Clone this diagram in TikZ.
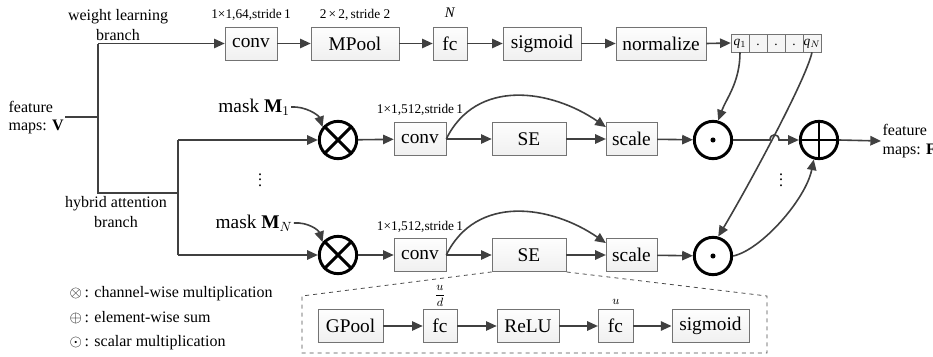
\documentclass[tikz,border=0pt]{standalone}
\usepackage{fontspec}
\setmainfont{Liberation Serif}
\usetikzlibrary{arrows.meta}
\newcommand{\bxfont}{\fontsize{14.5}{16}\selectfont}
\newcommand{\lbfont}{\fontsize{12}{15}\selectfont}
\newcommand{\smfont}{\fontsize{10}{11}\selectfont}

\begin{document}
\begin{tikzpicture}[x=0.75pt,y=-0.75pt,
  blk/.style={draw=gray!90!black, top color=gray!1, bottom color=gray!12, minimum height=25pt, inner sep=0pt, font=\bxfont},
  cell/.style={draw=gray!90!black, fill=gray!8, minimum size=13.5pt, inner sep=0pt, text height=6pt, text depth=2pt, font=\smfont},
  op/.style={circle, draw=black, line width=2.2pt, minimum size=28pt, inner sep=0pt},
  sym/.style={line width=2.2pt},
  ln/.style={draw=black!75, line width=1.2pt},
  arr/.style={ln, -{Triangle[length=8pt,width=7pt]}},
  note/.style={font=\smfont, inner sep=1pt},
  txt/.style={font=\lbfont, align=center, inner sep=1pt}]
\useasboundingbox (0,0) rectangle (933,357);

% input and branch labels
\node[txt, align=left, anchor=west, font=\fontsize{12}{13.5}\selectfont] (fV) at (7,118) {feature\\maps: \textbf{V}};
\node[txt] (lbw) at (118,25) {weight learning\\branch};
\node[txt] (lbh) at (116,212) {hybrid attention\\branch};
\coordinate (j1) at (98,117);
\coordinate (jt) at (98,43.5);
\coordinate (jb) at (98,193);
\coordinate (j2) at (178,193);
\coordinate (jA) at (178,140);
\coordinate (jB) at (178,255);

% weight learning branch
\node[blk, minimum width=39pt] (cvw) at (251,43.5) {conv};
\node[blk, minimum width=66pt] (mp) at (355,43.5) {MPool};
\node[blk, minimum width=25.5pt] (fcw) at (450,43.5) {fc};
\node[blk, minimum width=58.5pt] (sgw) at (542,43.5) {sigmoid};
\node[blk, minimum width=67.5pt] (nrm) at (661,43.5) {normalize};
\node[note] at (251,15) {1×1,64,stride\,1};
\node[note] at (355,15) {2\,×\,2,\,stride 2};
\node[note, font=\fontsize{11}{12}\selectfont] at (450,13) {\textit{N}};
\node[cell] (q1) at (740,43) {\textit{q}$_1$};
\node[cell] (q2) at (758,43) {.};
\node[cell] (q3) at (776,43) {.};
\node[cell] (q4) at (794,43) {.};
\node[cell] (q5) at (812,43) {\textit{q}$_N$};

% hybrid attention branch, first mask
\node[font=\bxfont, inner sep=1pt] (mkA) at (254,107) {mask \textbf{M}$_1$};
\node[op] (otA) at (338,140) {};
\node[blk, minimum width=39pt] (cvA) at (420,139) {conv};
\node[blk, minimum width=55.5pt] (seA) at (529,139) {SE};
\node[blk, minimum width=38pt] (scA) at (631.5,139) {scale};
\node[op] (odA) at (713,140) {};
\node[note] at (420,110) {1×1,512,stride\,1};

% hybrid attention branch, last mask
\node[font=\bxfont, inner sep=1pt] (mkB) at (254,223) {mask \textbf{M}$_N$};
\node[op] (otB) at (338,255) {};
\node[blk, minimum width=39pt] (cvB) at (420,255) {conv};
\node[blk, minimum width=55.5pt] (seB) at (529,255) {SE};
\node[blk, minimum width=38pt] (scB) at (631.5,255) {scale};
\node[op] (odB) at (713,256) {};
\node[note] at (420,227) {1×1,512,stride\,1};

% sum and output
\node[op] (sum) at (819,140) {};
\node[txt, align=left, anchor=west, font=\fontsize{12}{14}\selectfont] (fF) at (881,141) {feature\\maps: \textbf{F}};

% operator symbols
\draw[sym] (otA.north west) -- (otA.south east) (otA.north east) -- (otA.south west);
\draw[sym] (otB.north west) -- (otB.south east) (otB.north east) -- (otB.south west);
\draw[sym] (sum.north) -- (sum.south) (sum.west) -- (sum.east);
\fill (odA) circle[radius=1.9pt];
\fill (odB) circle[radius=1.9pt];

% SE block detail
\node[blk, minimum width=49pt] (gp) at (350.5,326) {GPool};
\node[blk, minimum width=25.5pt] (fcA) at (440,326) {fc};
\node[blk, minimum width=46.5pt] (rl) at (528,326) {ReLU};
\node[blk, minimum width=26pt] (fcB) at (615.5,326) {fc};
\node[blk, minimum width=58pt] (sgB) at (710.5,326) {sigmoid};
\node[note, font=\fontsize{9}{9}\selectfont] at (440,296) {$\displaystyle\frac{u}{d}$};
\node[note, font=\fontsize{9}{10}\selectfont] at (616,302) {$u$};
\draw[black!70, dashed, line width=0.6pt] (seB.south west) -- (302,296) -- (302,353) -- (767,353) -- (767,296) -- (seB.south east);

% connectors
\draw[ln] (fV.east |- j1) -- (j1);
\draw[ln] (jt) -- (jb) -- (j2);
\draw[ln] (jA) -- (jB);
\draw[arr] (jt) -- (cvw.west);
\draw[arr] (cvw) -- (mp);
\draw[arr] (mp) -- (fcw);
\draw[arr] (fcw) -- (sgw);
\draw[arr] (sgw) -- (nrm);
\draw[arr] (nrm.east) -- (q1.west);

\draw[arr] (jA) -- (otA.west);
\draw[arr] (mkA.east) .. controls +(14,-1) and +(-4,-12) .. (otA.140);
\draw[arr] (otA) -- (cvA);
\draw[arr] (cvA) -- (seA);
\draw[arr] (seA) -- (scA);
\draw[arr] (cvA.east) .. controls +(30,-61) and +(-55,-38) .. (scA.155);
\draw[arr] (scA) -- (odA);

\draw[arr] (jB) -- (otB.west);
\draw[arr] (mkB.east) .. controls +(14,-1) and +(-4,-12) .. (otB.140);
\draw[arr] (otB) -- (cvB);
\draw[arr] (cvB) -- (seB);
\draw[arr] (seB) -- (scB);
\draw[arr] (cvB.east) .. controls +(30,-61) and +(-55,-38) .. (scB.155);
\draw[arr] (scB) -- (odB);

\draw[arr] (q1.south) .. controls +(0,30) and +(8,-22) .. (odA.75);
\draw[arr] (q5.south) .. controls +(-6,28) and +(27,-45) .. (odB.75);
\draw[arr] (odA.east) -- (770,140) .. controls (770,133) and (779,133) .. (779,140) -- (sum.west);
\draw[arr] (odB.east) .. controls +(28,-6) and +(-8,40) .. (sum.255);
\draw[arr] (sum.east) -- (fF.west);

\draw[arr] (gp) -- (fcA);
\draw[arr] (fcA) -- (rl);
\draw[arr] (rl) -- (fcB);
\draw[arr] (fcB) -- (sgB);

% dots
\node[font=\lbfont] at (260,176) {$\vdots$};
\node[font=\lbfont] at (781,176) {$\vdots$};

% legend
\node[txt, anchor=west] at (68,294) {$\otimes$\,: channel-wise multiplication};
\node[txt, anchor=west] at (68,318) {$\oplus$\,: element-wise sum};
\node[txt, anchor=west] at (68,343) {$\odot$\,: scalar multiplication};
\end{tikzpicture}
\end{document}
